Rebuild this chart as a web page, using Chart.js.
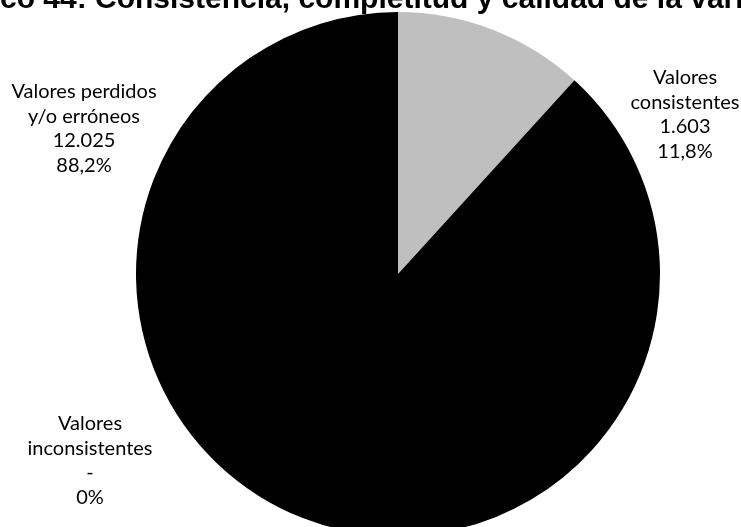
<!DOCTYPE html>
<html>
<head>
<meta charset="utf-8">
<script src="https://cdn.jsdelivr.net/npm/chart.js@4"></script>
<style>
  html, body { margin: 0; padding: 0; background: #fff; overflow: hidden; }
  #wrap { position: relative; width: 741px; height: 560px; }
</style>
</head>
<body>
<div id="wrap"><canvas id="pie"></canvas></div>
<script>
"use strict";

// datos del gráfico
var categorias = ["Valores consistentes", "Valores inconsistentes", "Valores perdidos y/o erróneos"];
var valores = [1603, 0, 12025];
var porcentajes = ["11,8%", "0%", "88,2%"];
var etiquetasValor = ["1.603", "-", "12.025"];
var colores = ["#BFBFBF", "#7F7F7F", "#000000"];
var titulo = "Gráfico 44: Consistencia, completitud y calidad de la variable";

// lineas de cada etiqueta (nombre partido como en el original)
var lineasNombre = [["Valores", "consistentes"], ["Valores", "inconsistentes"], ["Valores perdidos", "y/o erróneos"]];

// titulo recortado arriba
var tituloPlugin = {
    id: "tituloRecortado",
    afterDraw: function (chart) {
        var ctx = chart.ctx;
        ctx.save();
        ctx.font = "bold 30px 'Liberation Sans', Arial, sans-serif";
        ctx.fillStyle = "#000";
        ctx.textAlign = "left";
        ctx.textBaseline = "alphabetic";
        var off = ctx.measureText("Gráfi").width;
        ctx.fillText(titulo, -off, 8);
        ctx.restore();
    }
};

// etiquetas de datos fuera del pie
var etiquetasPlugin = {
    id: "etiquetas",
    afterDraw: function (chart) {
        var ctx = chart.ctx;
        var pos = [[685, 78], [90, 424], [84, 92]];
        ctx.save();
        ctx.font = "20px Lato, 'Open Sans', sans-serif";
        ctx.fillStyle = "#000";
        ctx.textAlign = "center";
        ctx.textBaseline = "middle";
        for (var i = 0; i < categorias.length; i++) {
            var lineas = lineasNombre[i].concat([etiquetasValor[i], porcentajes[i]]);
            for (var j = 0; j < lineas.length; j++) {
                ctx.fillText(lineas[j], pos[i][0], pos[i][1] + j * 24.5);
            }
        }
        ctx.restore();
    }
};

var ctx1 = document.getElementById("pie").getContext("2d");
var myChart1 = new Chart(ctx1, {
    type: "pie",
    data: {
        labels: categorias,
        datasets: [{
            data: valores,
            backgroundColor: colores,
            borderWidth: 0
        }]
    },
    options: {
        responsive: true,
        maintainAspectRatio: false,
        animation: false,
        layout: { padding: { top: 12, bottom: 24, left: 55, right: 0 } },
        plugins: {
            legend: { display: false },
            tooltip: { enabled: false }
        }
    },
    plugins: [tituloPlugin, etiquetasPlugin]
});
</script>
</body>
</html>
